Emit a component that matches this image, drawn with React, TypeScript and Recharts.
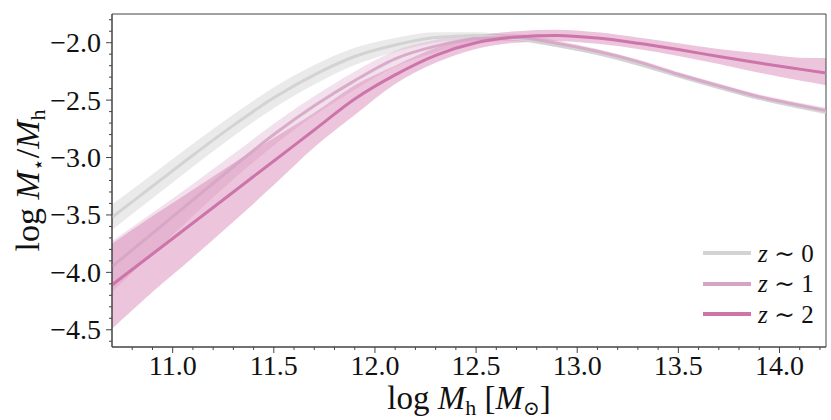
import { ComposedChart, Line, Area, XAxis, YAxis, ReferenceArea } from 'recharts';

// log halo mass grid
const logMh = [10.7, 10.9, 11.1, 11.3, 11.5, 11.7, 11.9, 12.1, 12.3, 12.5, 12.7, 12.9, 13.1, 13.3, 13.5, 13.7, 13.9, 14.1, 14.23];

// z ~ 0
const z0Mid = [-3.52, -3.25, -2.98, -2.72, -2.48, -2.28, -2.12, -2.02, -1.955, -1.94, -1.965, -2.025, -2.095, -2.185, -2.29, -2.39, -2.485, -2.56, -2.605];
const z0Lo = [-3.63, -3.355, -3.08, -2.815, -2.57, -2.365, -2.195, -2.08, -2.0, -1.97, -1.985, -2.04, -2.11, -2.2, -2.305, -2.405, -2.5, -2.578, -2.625];
const z0Hi = [-3.41, -3.145, -2.88, -2.625, -2.39, -2.195, -2.045, -1.96, -1.91, -1.91, -1.945, -2.01, -2.08, -2.17, -2.275, -2.375, -2.47, -2.542, -2.585];

// z ~ 1
const z1Mid = [-3.95, -3.66, -3.37, -3.08, -2.8, -2.55, -2.33, -2.14, -2.03, -1.965, -1.955, -2.005, -2.075, -2.165, -2.275, -2.375, -2.47, -2.545, -2.59];
const z1Lo = [-4.17, -3.84, -3.51, -3.19, -2.895, -2.635, -2.41, -2.21, -2.085, -2.005, -1.985, -2.03, -2.095, -2.185, -2.295, -2.395, -2.49, -2.567, -2.615];
const z1Hi = [-3.73, -3.48, -3.23, -2.97, -2.705, -2.465, -2.25, -2.07, -1.975, -1.925, -1.925, -1.98, -2.055, -2.145, -2.255, -2.355, -2.45, -2.523, -2.565];

// z ~ 2
const z2Mid = [-4.11, -3.84, -3.57, -3.3, -3.03, -2.76, -2.49, -2.28, -2.11, -2.0, -1.95, -1.937, -1.96, -2.005, -2.06, -2.12, -2.177, -2.23, -2.264];
const z2Lo = [-4.49, -4.17, -3.87, -3.56, -3.24, -2.91, -2.63, -2.36, -2.175, -2.055, -2.0, -1.987, -2.01, -2.055, -2.115, -2.185, -2.262, -2.33, -2.37];
const z2Hi = [-3.75, -3.51, -3.28, -3.05, -2.83, -2.61, -2.37, -2.2, -2.045, -1.945, -1.9, -1.887, -1.91, -1.955, -2.005, -2.055, -2.092, -2.13, -2.133];

const xMajor = [11.0, 11.5, 12.0, 12.5, 13.0, 13.5, 14.0];
const xTicks = [10.8, 10.9, 11.0, 11.1, 11.2, 11.3, 11.4, 11.5, 11.6, 11.7, 11.8, 11.9, 12.0, 12.1, 12.2, 12.3, 12.4, 12.5, 12.6, 12.7, 12.8, 12.9, 13.0, 13.1, 13.2, 13.3, 13.4, 13.5, 13.6, 13.7, 13.8, 13.9, 14.0, 14.1, 14.2];
const yMajor = [-4.5, -4.0, -3.5, -3.0, -2.5, -2.0];
const yTicks = [-4.6, -4.5, -4.4, -4.3, -4.2, -4.1, -4.0, -3.9, -3.8, -3.7, -3.6, -3.5, -3.4, -3.3, -3.2, -3.1, -3.0, -2.9, -2.8, -2.7, -2.6, -2.5, -2.4, -2.3, -2.2, -2.1, -2.0, -1.9, -1.8];

const legendItems = [
  { label: '0', color: '#d3d3d3' },
  { label: '1', color: '#d6a5c5' },
  { label: '2', color: '#cd74aa' },
];

const data = logMh.map((x, i) => ({
  x,
  z0: z0Mid[i], z0Band: [z0Lo[i], z0Hi[i]],
  z1: z1Mid[i], z1Band: [z1Lo[i], z1Hi[i]],
  z2: z2Mid[i], z2Band: [z2Lo[i], z2Hi[i]],
}));

const FONT = "'Liberation Serif', 'DejaVu Serif', serif";
const AXIS = '#444';

const isIn = (list: number[], v: number) => list.some(t => Math.abs(t - v) < 1e-6);

function XTick({ x, y, payload }: any) {
  const major = isIn(xMajor, payload.value);
  return (
    <g>
      <line x1={x} x2={x} y1={y} y2={y + (major ? 6 : 3)} stroke={AXIS} strokeWidth={1} />
      {major && (
        <text x={x} y={y + 28} textAnchor="middle" style={{ fontFamily: FONT, fontSize: 28 }} fill="#111">
          {payload.value.toFixed(1)}
        </text>
      )}
    </g>
  );
}

function YTick({ x, y, payload }: any) {
  const major = isIn(yMajor, payload.value);
  return (
    <g>
      <line x1={x} x2={x - (major ? 6 : 3)} y1={y} y2={y} stroke={AXIS} strokeWidth={1} />
      {major && (
        <text x={x - 11} y={y + 9.5} textAnchor="end" style={{ fontFamily: FONT, fontSize: 28 }} fill="#111">
          {'\u2212' + Math.abs(payload.value).toFixed(1)}
        </text>
      )}
    </g>
  );
}

function XTitle({ viewBox }: any) {
  const cx = viewBox.x + viewBox.width / 2;
  const y = viewBox.y + 62;
  return (
    <text x={cx} y={y} textAnchor="middle" style={{ fontFamily: FONT, fontSize: 33 }} fill="#111" xmlSpace="preserve">
      log <tspan fontStyle="italic">M</tspan>
      <tspan dy={6} fontSize={22}>h</tspan>
      <tspan dy={-6}> [</tspan>
      <tspan fontStyle="italic">M</tspan>
      <tspan dy={6} fontSize={20}>⊙</tspan>
      <tspan dy={-6}>]</tspan>
    </text>
  );
}

function YTitle({ viewBox }: any) {
  const cy = viewBox.y + viewBox.height / 2;
  const x = 39;
  return (
    <text x={x} y={cy} transform={`rotate(-90 ${x} ${cy})`} textAnchor="middle" style={{ fontFamily: FONT, fontSize: 34 }} fill="#111" xmlSpace="preserve">
      log <tspan fontStyle="italic">M</tspan>
      <tspan dy={6} fontSize={20}>⋆</tspan>
      <tspan dy={-6}>/</tspan>
      <tspan fontStyle="italic">M</tspan>
      <tspan dy={6} fontSize={22}>h</tspan>
    </text>
  );
}

export default function App() {
  return (
    <div style={{ position: 'absolute', left: 0, top: 0, width: 831, height: 420, background: '#fff' }}>
      <ComposedChart width={831} height={420} data={data} margin={{ top: 14, right: 5, bottom: 0, left: 0 }}>
        <XAxis
          dataKey="x"
          type="number"
          domain={[10.7, 14.23]}
          allowDataOverflow
          ticks={xTicks}
          interval={0}
          tick={<XTick />}
          tickLine={false}
          tickSize={0}
          tickMargin={0}
          height={73}
          axisLine={{ stroke: AXIS }}
          label={<XTitle />}
        />
        <YAxis
          type="number"
          domain={[-4.65, -1.75]}
          allowDataOverflow
          ticks={yTicks}
          interval={0}
          tick={<YTick />}
          tickLine={false}
          tickSize={0}
          tickMargin={0}
          width={112}
          axisLine={{ stroke: AXIS }}
          label={<YTitle />}
        />
        <Area type="monotone" dataKey="z0Band" fill="#d0d0d0" fillOpacity={0.45} stroke="none" isAnimationActive={false} activeDot={false} />
        <Line type="monotone" dataKey="z0" stroke="#d3d3d3" strokeWidth={3} dot={false} isAnimationActive={false} activeDot={false} />
        <Area type="monotone" dataKey="z1Band" fill="#d9a9c8" fillOpacity={0.35} stroke="none" isAnimationActive={false} activeDot={false} />
        <Line type="monotone" dataKey="z1" stroke="#d6a5c5" strokeWidth={3} strokeOpacity={0.9} dot={false} isAnimationActive={false} activeDot={false} />
        <Area type="monotone" dataKey="z2Band" fill="#d57fb2" fillOpacity={0.45} stroke="none" isAnimationActive={false} activeDot={false} />
        <Line type="monotone" dataKey="z2" stroke="#cd74aa" strokeWidth={3} dot={false} isAnimationActive={false} activeDot={false} />
        <ReferenceArea x1={10.7} x2={14.23} y1={-4.65} y2={-1.75} fill="none" stroke={AXIS} strokeWidth={1} ifOverflow="visible" />
      </ComposedChart>
      {legendItems.map((item, i) => (
        <div
          key={item.label}
          style={{ position: 'absolute', left: 703, top: 238 + i * 30.5, height: 30, display: 'flex', alignItems: 'center', fontFamily: FONT, fontSize: 25, color: '#111' }}
        >
          <span style={{ display: 'inline-block', width: 48, height: 4, background: item.color }} />
          <span style={{ marginLeft: 7 }}>
            <i>z</i> ∼ {item.label}
          </span>
        </div>
      ))}
    </div>
  );
}
